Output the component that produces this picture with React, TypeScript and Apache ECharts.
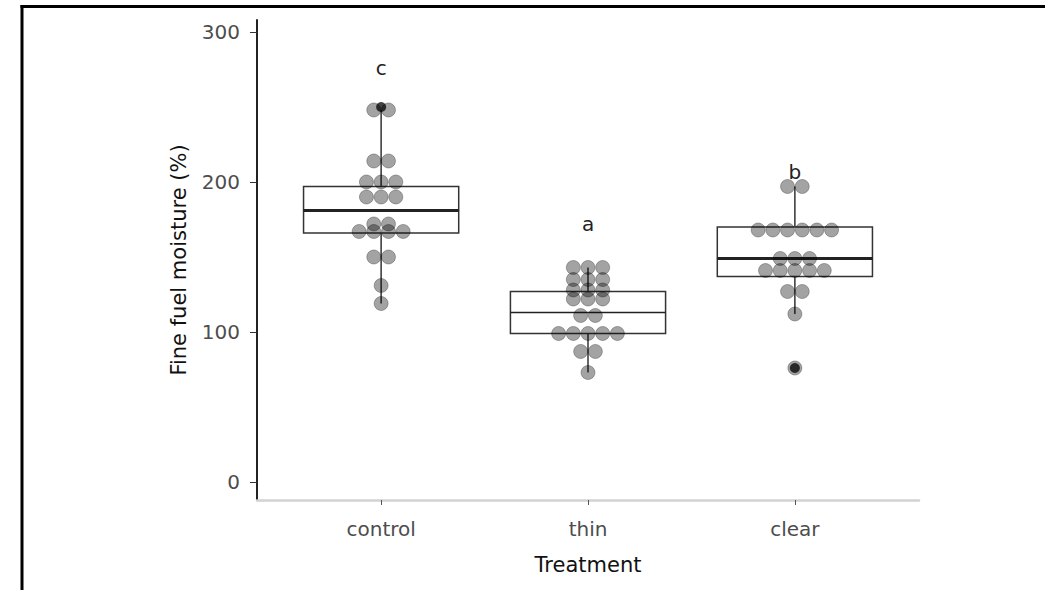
import React, { useEffect, useRef } from "react";
import * as echarts from "echarts";

const categories = ["control", "thin", "clear"];
const yTicks = [0, 100, 200, 300];

// individual observations (dot plot)
const controlValues = [248, 248, 214, 214, 200, 200, 200, 190, 190, 190, 172, 172, 167, 167, 167, 167, 150, 150, 131, 119];
const thinValues = [143, 143, 143, 135, 135, 135, 128, 128, 128, 122, 122, 122, 111, 111, 99, 99, 99, 99, 99, 87, 87, 73];
const clearValues = [197, 197, 168, 168, 168, 168, 168, 168, 149, 149, 149, 141, 141, 141, 141, 141, 127, 127, 112, 76];

// box statistics
const whiskerLow = [119, 73, 112];
const q1 = [166, 99, 137];
const medians = [181, 113, 149];
const q3 = [197, 127, 170];
const whiskerHigh = [248, 143, 197];

// outliers
const outlierCategory = ["control", "clear"];
const outlierValues = [250, 76];

// significance letters
const letters = ["c", "a", "b"];
const letterValues = [276, 172, 207];

const FONT = "DejaVu Sans";
const DOT_STEP = 0.071;
const medianWidths = [3, 1.5, 3];

function dotLayout(values: number[], center: number) {
  const counts = new Map<number, number>();
  values.forEach((v) => counts.set(v, (counts.get(v) || 0) + 1));
  const pts: number[][] = [];
  counts.forEach((n, v) => {
    for (let i = 0; i < n; i++) {
      pts.push([center + (i - (n - 1) / 2) * DOT_STEP, v]);
    }
  });
  return pts;
}

export default function App() {
  const ref = useRef<HTMLDivElement>(null);
  useEffect(() => {
    if (!ref.current) return;
    const chart = echarts.init(ref.current, null, { renderer: "svg" });
    const groups = [controlValues, thinValues, clearValues];
    const dots: number[][] = [];
    groups.forEach((g, i) => dots.push(...dotLayout(g, i + 1)));

    const boxData = categories.map((_, i) => [i + 1, whiskerLow[i], q1[i], medians[i], q3[i], whiskerHigh[i]]);

    chart.setOption({
      animation: false,
      grid: { left: 257, top: 20, width: 662, height: 480, containLabel: false },
      graphic: [
        { type: "line", shape: { x1: 20.5, y1: 6.5, x2: 1045, y2: 6.5 }, style: { stroke: "#000", lineWidth: 3 } },
        { type: "line", shape: { x1: 22, y1: 5, x2: 22, y2: 590 }, style: { stroke: "#000", lineWidth: 3 } },
      ],
      xAxis: {
        type: "value",
        min: 0.4,
        max: 3.6,
        splitLine: { show: false },
        axisLine: { show: true, onZero: false, lineStyle: { color: "#d2d2d2", width: 2.5 } },
        axisTick: { show: true, customValues: [1, 2, 3], length: 5, lineStyle: { color: "#555", width: 1 } },
        axisLabel: {
          customValues: [1, 2, 3],
          formatter: (v: number) => categories[Math.round(v) - 1],
          fontFamily: FONT,
          fontSize: 20,
          color: "#4d4d4d",
          margin: 19,
        },
        name: "Treatment",
        nameLocation: "middle",
        nameGap: 54,
        nameTextStyle: { fontFamily: FONT, fontSize: 21, color: "#111" },
      },
      yAxis: {
        type: "value",
        min: -12,
        max: 308,
        splitLine: { show: false },
        axisLine: { show: true, onZero: false, lineStyle: { color: "#222", width: 2 } },
        axisTick: { show: true, customValues: yTicks, length: 7, lineStyle: { color: "#333", width: 1 } },
        axisLabel: {
          customValues: yTicks,
          fontFamily: FONT,
          fontSize: 20,
          color: "#4d4d4d",
          margin: 17,
        },
        name: "Fine fuel moisture (%)",
        nameLocation: "middle",
        nameGap: 68,
        nameTextStyle: { fontFamily: FONT, fontSize: 21, color: "#111" },
      },
      series: [
        {
          type: "custom",
          clip: false,
          encode: { x: 0, y: [1, 2, 3, 4, 5] },
          data: boxData,
          renderItem: (params: any, api: any) => {
            const x = api.value(0);
            const pLow = api.coord([x, api.value(1)]);
            const pQ1 = api.coord([x, api.value(2)]);
            const pMed = api.coord([x, api.value(3)]);
            const pQ3 = api.coord([x, api.value(4)]);
            const pHigh = api.coord([x, api.value(5)]);
            const halfW = api.size([0.75, 0])[0] / 2;
            const cx = pMed[0];
            const stroke = "#333";
            return {
              type: "group",
              children: [
                { type: "line", shape: { x1: cx, y1: pLow[1], x2: cx, y2: pQ1[1] }, style: { stroke, lineWidth: 1.5 } },
                { type: "line", shape: { x1: cx, y1: pQ3[1], x2: cx, y2: pHigh[1] }, style: { stroke, lineWidth: 1.5 } },
                {
                  type: "rect",
                  shape: { x: cx - halfW, y: pQ3[1], width: 2 * halfW, height: pQ1[1] - pQ3[1] },
                  style: { fill: "#fff", stroke, lineWidth: 1.5 },
                },
                {
                  type: "line",
                  shape: { x1: cx - halfW, y1: pMed[1], x2: cx + halfW, y2: pMed[1] },
                  style: { stroke: "#222", lineWidth: medianWidths[params.dataIndex] },
                },
              ],
            };
          },
          z: 1,
        },
        {
          type: "scatter",
          data: outlierCategory.map((c, i) => [categories.indexOf(c) + 1, outlierValues[i]]),
          symbolSize: 10,
          itemStyle: { color: "#111" },
          z: 2,
        },
        {
          type: "scatter",
          data: dots,
          symbolSize: 14,
          itemStyle: { color: "rgba(0,0,0,0.45)", borderColor: "rgba(0,0,0,0.35)", borderWidth: 1 },
          z: 3,
        },
        {
          type: "custom",
          clip: false,
          data: letters.map((l, i) => [i + 1, letterValues[i]]),
          renderItem: (params: any, api: any) => {
            const p = api.coord([api.value(0), api.value(1)]);
            return {
              type: "text",
              x: p[0],
              y: p[1],
              style: {
                text: letters[params.dataIndex],
                fill: "#222",
                font: `20px "${FONT}"`,
                textAlign: "center",
                textVerticalAlign: "middle",
              },
            };
          },
          z: 4,
        },
      ],
    });
    return () => chart.dispose();
  }, []);
  return <div ref={ref} style={{ position: "absolute", left: 0, top: 0, width: 1045, height: 590, background: "#fff" }} />;
}
